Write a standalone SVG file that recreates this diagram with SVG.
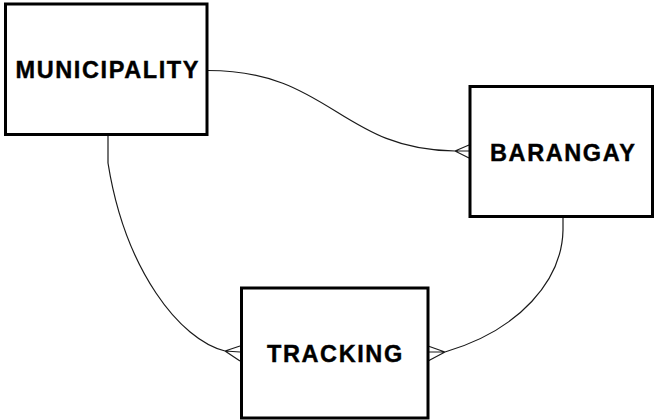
<svg xmlns="http://www.w3.org/2000/svg" width="655" height="420" viewBox="0 0 655 420">
  <style>
    .box { fill: #ffffff; stroke: #000000; stroke-width: 3; }
    .label { font-family: "Liberation Sans", Arial, sans-serif; font-weight: bold; font-size: 23.5px; letter-spacing: 1.6px; fill: #000000; stroke: #000000; stroke-width: 0.4; }
    .rel { fill: none; stroke: #1a1a1a; stroke-width: 1.2; }
  </style>
  <rect width="655" height="420" fill="#ffffff"/>

  <g id="connectors">
    <!-- MUNICIPALITY to BARANGAY (one to many) -->
    <path class="rel" d="M207,70.5 C330,70 340,150 455,151"/>
    <path class="rel" d="M455,151 L469,145 M455,151 L469,151 M455,151 L469,158"/>
    <!-- MUNICIPALITY to TRACKING (one to many) -->
    <path class="rel" d="M108,135 L108,163 C125,270 180,340 225,351"/>
    <path class="rel" d="M225,351 L240,346 M225,351 L240,352 M225,351 L240,361"/>
    <!-- BARANGAY to TRACKING (one to many) -->
    <path class="rel" d="M563,217 L563,230 C562,280 520,330 445,352"/>
    <path class="rel" d="M445,352 L428,346 M445,352 L428,352 M445,352 L428,361"/>
  </g>

  <g id="municipality">
    <rect class="box" x="5.5" y="4" width="201.5" height="130.5"/>
    <text class="label" x="15.5" y="77.5">MUNICIPALITY</text>
  </g>

  <g id="barangay">
    <rect class="box" x="470" y="86.5" width="182.5" height="130"/>
    <text class="label" x="490" y="160.5">BARANGAY</text>
  </g>

  <g id="tracking">
    <rect class="box" x="241.5" y="288" width="186.5" height="130"/>
    <text class="label" x="267" y="361.5">TRACKING</text>
  </g>
</svg>
